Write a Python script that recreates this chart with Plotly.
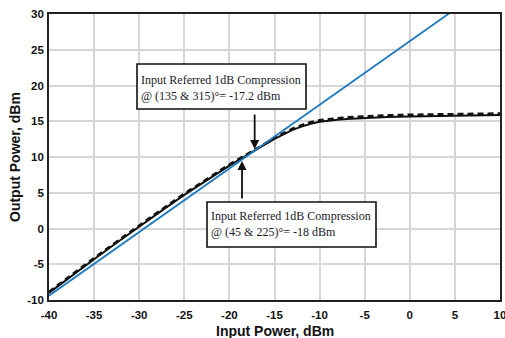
import plotly.graph_objects as go

# Input power sweep, dBm
pin = [-40, -37.5, -35, -32.5, -30, -27.5, -25, -22.5, -20, -18, -17, -16, -15,
       -14, -13, -12, -11, -10, -9, -8, -7, -6, -5, -2.5, 0, 2.5, 5, 7.5, 10]

# Measured output power, dBm (solid and dashed phase settings)
pout_solid = [-9.0, -6.6, -4.3, -2.0, 0.3, 2.5, 4.7, 6.8, 8.8, 10.3, 11.0, 11.8, 12.55,
              13.2, 13.8, 14.25, 14.65, 14.92, 15.1, 15.22, 15.32, 15.4, 15.47, 15.6,
              15.68, 15.74, 15.79, 15.83, 15.87]
pout_dashed = [-8.85, -6.45, -4.15, -1.85, 0.45, 2.65, 4.85, 6.95, 8.95, 10.4, 11.1, 11.9,
               12.7, 13.35, 13.95, 14.45, 14.85, 15.12, 15.3, 15.43, 15.53, 15.61, 15.68,
               15.82, 15.9, 15.96, 16.0, 16.04, 16.08]

# Ideal linear-gain reference line
pin_lin = [-40, 10]
pout_lin = [-9.4, 35.1]

# Tick labels
x_ticks = [-40, -35, -30, -25, -20, -15, -10, -5, 0, 5, 10]
y_ticks = [-10, -5, 0, 5, 10, 15, 20, 25, 30]

# Compression points marked with arrows
p1db_a = -17.2   # (135 & 315) deg
p1db_b = -18.6   # (45 & 225) deg arrow position

fig = go.Figure()
fig.add_trace(go.Scatter(x=pin, y=pout_solid, mode="lines",
                         line=dict(color="#111111", width=2), showlegend=False))
fig.add_trace(go.Scatter(x=pin, y=pout_dashed, mode="lines",
                         line=dict(color="#111111", width=2.6, dash="6px,4px"),
                         showlegend=False))
fig.add_trace(go.Scatter(x=pin_lin, y=pout_lin, mode="lines",
                         line=dict(color="#1f7bbf", width=1.8), showlegend=False))

axis_font = dict(family="Liberation Sans, Arial, sans-serif", size=11.5,
                 color="#111111", weight="bold")
fig.update_xaxes(range=[-40, 10], tickvals=x_ticks, ticktext=[str(v) for v in x_ticks],
                 showgrid=True, gridcolor="#d6d6d6", gridwidth=1.5,
                 showline=True, mirror=True, linecolor="#222222", linewidth=1.6,
                 zeroline=False, ticks="outside", ticklen=3, tickcolor="rgba(0,0,0,0)",
                 tickfont=axis_font, automargin=False, ticklabeloverflow="allow")
fig.update_yaxes(range=[-10, 30], tickvals=y_ticks, ticktext=[str(v) for v in y_ticks],
                 showgrid=True, gridcolor="#d6d6d6", gridwidth=1.5,
                 showline=True, mirror=True, linecolor="#222222", linewidth=1.6,
                 zeroline=False, ticks="outside", ticklen=1, tickcolor="rgba(0,0,0,0)",
                 tickfont=axis_font, automargin=False, ticklabeloverflow="allow")

L, R, T, B = 49, 5, 14, 38
W, H = 505, 338
pw, ph = W - L - R, H - T - B

def px(x):
    return (x - L) / pw

def py(y):
    return (H - B - y) / ph

title_font = dict(family="Liberation Sans, Arial, sans-serif", size=14, color="#111111")
serif = dict(family="Liberation Serif, Times New Roman, serif", size=12, color="#1a1a2a")

annotations = [
    dict(text="<b>Input Power, dBm</b>", xref="paper", yref="paper",
         x=px(275), y=py(331), xanchor="center", yanchor="middle",
         showarrow=False, font=title_font),
    dict(text="<b>Output Power, dBm</b>", xref="paper", yref="paper",
         x=px(15), y=py(157), xanchor="center", yanchor="middle", textangle=-90,
         showarrow=False, font=title_font),
    dict(text="Input Referred 1dB Compression<br>@ (135 & 315)°= -17.2 dBm",
         xref="paper", yref="paper", x=px(139), y=py(88), xanchor="left",
         yanchor="middle", align="left", showarrow=False, font=serif),
    dict(text="Input Referred 1dB Compression<br>@ (45 & 225)°= -18 dBm",
         xref="paper", yref="paper", x=px(209), y=py(224), xanchor="left",
         yanchor="middle", align="left", showarrow=False, font=serif),
    dict(text="", x=p1db_a, y=11.12, xref="x", yref="y", showarrow=True,
         ax=0, ay=-36, arrowhead=2, arrowsize=1, arrowwidth=1.8, arrowcolor="#111111"),
    dict(text="", x=p1db_b, y=9.44, xref="x", yref="y", showarrow=True,
         ax=0, ay=39, arrowhead=2, arrowsize=1, arrowwidth=1.8, arrowcolor="#111111"),
]

shapes = [
    dict(type="rect", xref="paper", yref="paper", x0=px(137), x1=px(306),
         y0=py(109), y1=py(64), line=dict(color="#111111", width=1.6),
         fillcolor="white", layer="above"),
    dict(type="rect", xref="paper", yref="paper", x0=px(207), x1=px(376),
         y0=py(247), y1=py(202), line=dict(color="#111111", width=1.6),
         fillcolor="white", layer="above"),
]

fig.update_layout(width=W, height=H, margin=dict(l=L, r=R, t=T, b=B),
                  paper_bgcolor="white", plot_bgcolor="white",
                  annotations=annotations, shapes=shapes)

fig.write_html("out.html")
